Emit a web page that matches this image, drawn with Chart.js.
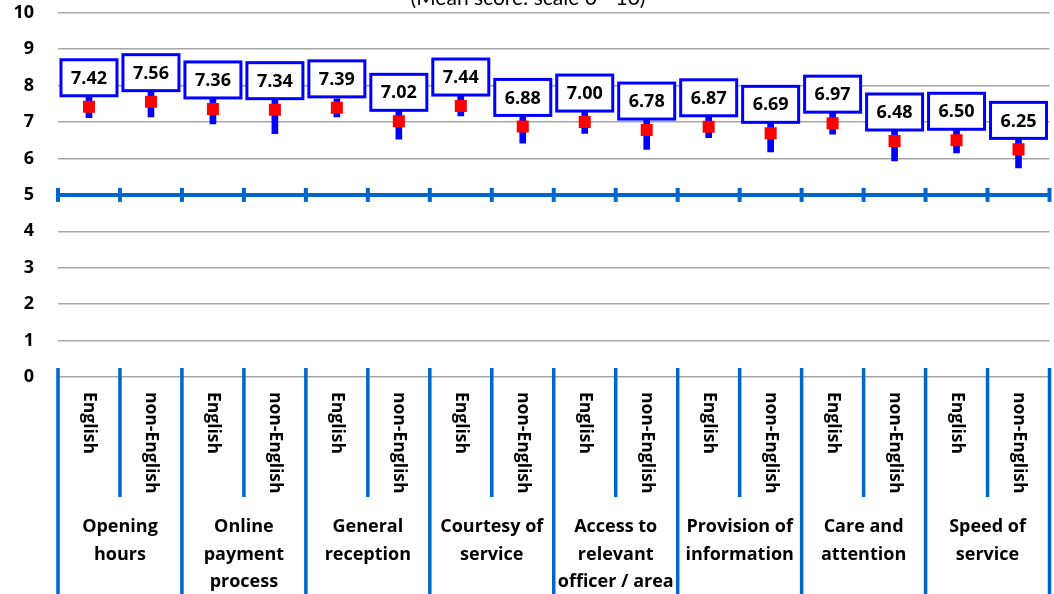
<!DOCTYPE html>
<html>
<head>
<meta charset="utf-8">
<script src="https://cdn.jsdelivr.net/npm/chart.js@4.4.1/dist/chart.umd.min.js"></script>
<style>
  html, body { margin: 0; padding: 0; background: #fff; overflow: hidden; }
  #wrap { position: absolute; left: 0; top: -22px; width: 1058px; height: 616px; }
</style>
</head>
<body>
<div id="wrap"><canvas id="chart"></canvas></div>
<script>
// 数据
const categories = [
  'English', 'non-English', 'English', 'non-English', 'English', 'non-English', 'English', 'non-English',
  'English', 'non-English', 'English', 'non-English', 'English', 'non-English', 'English', 'non-English'
];
const groups = [
  ['Opening', 'hours'],
  ['Online', 'payment', 'process'],
  ['General', 'reception'],
  ['Courtesy of', 'service'],
  ['Access to', 'relevant', 'officer / area'],
  ['Provision of', 'information'],
  ['Care and', 'attention'],
  ['Speed of', 'service']
];
const means = [7.42, 7.56, 7.36, 7.34, 7.39, 7.02, 7.44, 6.88, 7.00, 6.78, 6.87, 6.69, 6.97, 6.48, 6.50, 6.25];
const lows  = [7.12, 7.14, 6.95, 6.68, 7.14, 6.53, 7.17, 6.42, 6.69, 6.25, 6.57, 6.18, 6.67, 5.93, 6.15, 5.74];
const highs = [7.72, 7.98, 7.77, 8.00, 7.64, 7.51, 7.71, 7.34, 7.31, 7.31, 7.17, 7.20, 7.27, 7.03, 6.85, 6.76];
const titleText = '(Mean score: scale 0 - 10)';

const FONT = "'Open Sans', Lato, sans-serif";
const TITLE_FONT = "Lato, 'Open Sans', sans-serif";
const AXIS_BLUE = '#0066cc';
const BAR_BLUE = '#0000ff';

// 5 分线上的交叉刻度
const midTicks = {
  id: 'midTicks',
  beforeDatasetsDraw(chart) {
    const { ctx, scales: { x, y } } = chart;
    const py = y.getPixelForValue(5);
    const half = (x.getPixelForValue(1) - x.getPixelForValue(0)) / 2;
    ctx.save();
    ctx.fillStyle = AXIS_BLUE;
    for (let i = 0; i <= categories.length; i++) {
      const px = x.getPixelForValue(i) - half;
      ctx.fillRect(px - 2, py - 7, 4, 14);
    }
    ctx.restore();
  }
};

// 数值标签（白底蓝框）
const valueBoxes = {
  id: 'valueBoxes',
  afterDatasetsDraw(chart) {
    const { ctx } = chart;
    const meta = chart.getDatasetMeta(1);
    ctx.save();
    ctx.font = `bold 18px ${FONT}`;
    ctx.textAlign = 'center';
    ctx.textBaseline = 'middle';
    meta.data.forEach((pt, i) => {
      const w = 56, h = 36;
      const left = pt.x - w / 2;
      const top = pt.y - 11 - h;
      ctx.fillStyle = '#fff';
      ctx.fillRect(left, top, w, h);
      ctx.lineWidth = 3;
      ctx.strokeStyle = BAR_BLUE;
      ctx.strokeRect(left, top, w, h);
      ctx.fillStyle = '#000';
      ctx.fillText(means[i].toFixed(2), pt.x, top + h / 2 + 1);
    });
    ctx.restore();
  }
};

// 底部两级分类标签
const bottomLabels = {
  id: 'bottomLabels',
  afterDraw(chart) {
    const { ctx, chartArea, scales: { x } } = chart;
    const half = (x.getPixelForValue(1) - x.getPixelForValue(0)) / 2;
    const b = chartArea.bottom;
    ctx.save();
    ctx.fillStyle = AXIS_BLUE;
    for (let i = 0; i <= categories.length; i++) {
      const px = x.getPixelForValue(i) - half;
      const end = i % 2 === 0 ? chart.height : b + 120;
      ctx.fillRect(px - 1.75, b - 9, 3.5, end - (b - 9));
    }
    ctx.fillStyle = '#000';
    ctx.font = `bold 17.5px ${FONT}`;
    ctx.textAlign = 'left';
    ctx.textBaseline = 'middle';
    categories.forEach((c, i) => {
      ctx.save();
      ctx.translate(x.getPixelForValue(i), b + 15);
      ctx.rotate(Math.PI / 2);
      ctx.fillText(c, 0, 0);
      ctx.restore();
    });
    ctx.font = `bold 18px ${FONT}`;
    ctx.textAlign = 'center';
    groups.forEach((lines, g) => {
      const cx = (x.getPixelForValue(2 * g) + x.getPixelForValue(2 * g + 1)) / 2;
      lines.forEach((t, k) => ctx.fillText(t, cx, b + 150 + k * 27.5));
    });
    ctx.restore();
  }
};

new Chart(document.getElementById('chart'), {
  data: {
    labels: categories,
    datasets: [
      {
        type: 'bar',
        data: lows.map((l, i) => [l, highs[i]]),
        backgroundColor: BAR_BLUE,
        borderWidth: 0,
        barThickness: 6,
        order: 2
      },
      {
        type: 'line',
        data: means,
        showLine: false,
        pointStyle: 'rect',
        pointRadius: 8.5,
        pointHoverRadius: 8.5,
        pointBackgroundColor: '#ff0000',
        pointBorderWidth: 0,
        order: 1
      }
    ]
  },
  options: {
    responsive: true,
    maintainAspectRatio: false,
    animation: false,
    layout: { padding: { left: 0, right: 2, top: 0, bottom: 217 } },
    plugins: {
      legend: { display: false },
      tooltip: { enabled: false },
      title: {
        display: true,
        text: titleText,
        color: '#000',
        font: { family: TITLE_FONT, size: 21, weight: 'normal' },
        padding: { top: 0, bottom: 2.4 }
      }
    },
    scales: {
      x: {
        type: 'category',
        display: false,
        offset: true,
        grid: { display: false }
      },
      y: {
        min: 0,
        max: 10,
        ticks: {
          stepSize: 1,
          padding: 24,
          color: '#000',
          font: { family: FONT, size: 18, weight: 'bold' }
        },
        grid: {
          drawTicks: false,
          color: (c) => c.tick && c.tick.value === 5 ? AXIS_BLUE : '#a6a6a6',
          lineWidth: (c) => c.tick && c.tick.value === 5 ? 4 : 1.5
        },
        border: { display: false },
        afterFit: (s) => { s.width = 58; }
      }
    }
  },
  plugins: [midTicks, valueBoxes, bottomLabels]
});
</script>
</body>
</html>
